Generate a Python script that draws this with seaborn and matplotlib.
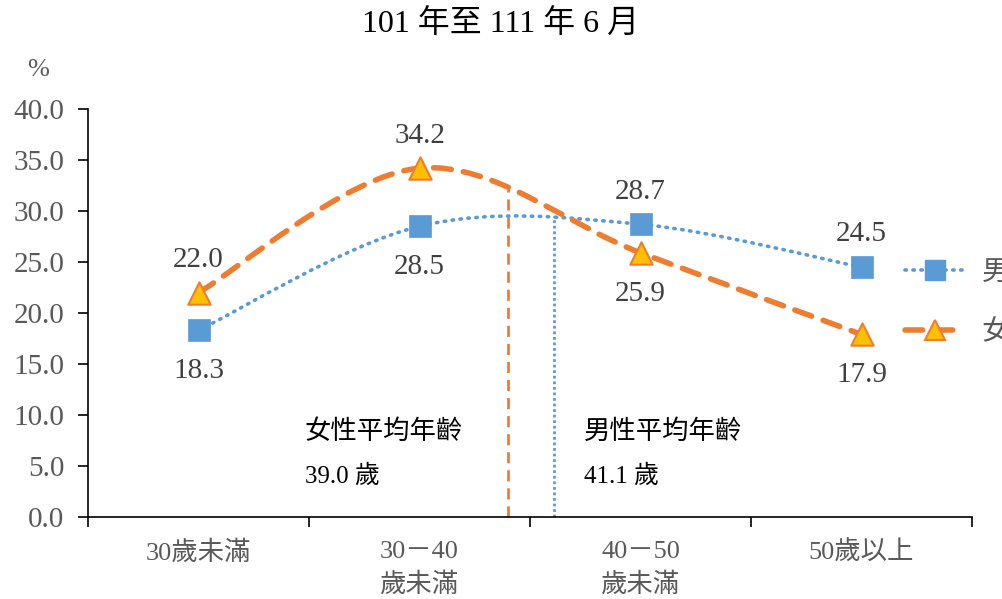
import numpy as np
import matplotlib
matplotlib.use('Agg')
import matplotlib.pyplot as plt
from matplotlib.path import Path
from matplotlib.patches import PathPatch
from matplotlib.lines import Line2D
import seaborn as sns
import pandas as pd

# data
categories = ['30歲未滿', '30－40\n歲未滿', '40－50\n歲未滿', '50歲以上']
male = [18.3, 28.5, 28.7, 24.5]
female = [22.0, 34.2, 25.9, 17.9]
boundary_ages = [30, 40, 50]
female_avg_age = 39.0
male_avg_age = 41.1
female_line_top = 32.4
male_line_top = 29.5

sns.set_theme(style='white')
plt.rcParams['font.family'] = ['Liberation Serif', 'Noto Sans CJK TC']

BLUE = '#5B9BD5'
ORANGE = '#ED7D31'
YELLOW = '#FFC000'
GREY = '#595959'

fig = plt.figure(figsize=(10.02, 5.99), dpi=100)
ax = fig.add_axes([88/1002, 82/599, 884/1002, 408/599])

x = np.arange(len(categories))
df = pd.DataFrame({'x': np.concatenate([x, x]),
                   'value': male + female,
                   'sex': ['男'] * 4 + ['女'] * 4})


def smooth_path(xs, ys):
    # excel style smoothed line: bezier with catmull-rom control points
    pts = np.column_stack([xs, ys]).astype(float)
    ext = np.vstack([pts[0], pts, pts[-1]])
    verts = [pts[0]]
    codes = [Path.MOVETO]
    for i in range(len(pts) - 1):
        p0, p1, p2, p3 = ext[i], ext[i + 1], ext[i + 2], ext[i + 3]
        verts += [p1 + (p2 - p0) / 6, p2 - (p3 - p1) / 6, p2]
        codes += [Path.CURVE4] * 3
    return Path(verts, codes)


ax.add_patch(PathPatch(smooth_path(x, male), fill=False, edgecolor=BLUE,
                       lw=2.6, linestyle=(0, (0.4, 1.8)), capstyle='round', zorder=2))
ax.add_patch(PathPatch(smooth_path(x, female), fill=False, edgecolor=ORANGE,
                       lw=4, linestyle=(0, (3.2, 2.2)), capstyle='round', zorder=2))

sns.scatterplot(data=df[df.sex == '男'], x='x', y='value', marker='s', s=230,
                color=BLUE, edgecolor=BLUE, linewidth=0.5, ax=ax, zorder=4, legend=False)
sns.scatterplot(data=df[df.sex == '女'], x='x', y='value', marker='^', s=260,
                color=YELLOW, edgecolor=ORANGE, linewidth=1.5, ax=ax, zorder=4, legend=False)

# average-age lines
def age_to_x(age):
    return 0.5 + (age - boundary_ages[0]) / (boundary_ages[1] - boundary_ages[0])

ax.plot([age_to_x(female_avg_age)] * 2, [0, female_line_top], color=ORANGE,
        lw=2, linestyle=(0, (4, 2.5)), zorder=1)
ax.plot([age_to_x(male_avg_age)] * 2, [0, male_line_top], color=BLUE,
        lw=2, linestyle=(0, (1, 1)), zorder=1)

ax.text(0.48, 8.4, '女性平均年齡', fontsize=19, color='black', ha='left', va='center')
ax.text(0.48, 4.0, '39.0 歲', fontsize=18, color='black', ha='left', va='center')
ax.text(1.745, 8.4, '男性平均年齡', fontsize=19, color='black', ha='left', va='center')
ax.text(1.745, 4.0, '41.1 歲', fontsize=18, color='black', ha='left', va='center')

# data labels
male_pos = ['below', 'below', 'above', 'above']
female_pos = ['above', 'above', 'below', 'below']
for xi, v, p in zip(x, male, male_pos):
    off = 3.2 if p == 'above' else -4.0
    ax.text(xi, v + off, f'{v:.1f}', fontsize=21, color='#404040', ha='center', va='center')
for xi, v, p in zip(x, female, female_pos):
    off = 3.2 if p == 'above' else -4.0
    ax.text(xi, v + off, f'{v:.1f}', fontsize=21, color='#404040', ha='center', va='center')

ax.set_xlim(-0.5, 3.5)
ax.set_ylim(0, 40)
ax.set_yticks(np.arange(0, 40.1, 5))
ax.set_yticklabels([f'{v:.1f}' for v in np.arange(0, 40.1, 5)], fontsize=21, color=GREY)
ax.set_xticks(np.arange(-0.5, 3.6, 1))
ax.set_xticklabels([])
ax.set_xticks(x, minor=True)
ax.set_xticklabels(categories, minor=True, fontsize=19, color=GREY, linespacing=1.5)
ax.tick_params(axis='x', which='minor', length=0, pad=17)
ax.tick_params(axis='x', which='major', direction='out', length=7, width=1.2, color='black', bottom=True)
ax.tick_params(axis='y', direction='out', length=7, width=1.2, color='black', left=True, pad=10)
for s in ['top', 'right']:
    ax.spines[s].set_visible(False)
for s in ['left', 'bottom']:
    ax.spines[s].set_color('black')
    ax.spines[s].set_linewidth(1.2)
ax.set_xlabel('')
ax.set_ylabel('')
ax.grid(False)

fig.text(38/1002, 1 - 70/599, '%', fontsize=19, color=GREY, ha='center', va='center')
fig.text(0.5, 1 - 25/599, '101 年至 111 年 6 月', fontsize=23, color='black',
         ha='center', va='center')

handles = [
    Line2D([], [], color=BLUE, lw=2.6, linestyle=(0, (0.4, 1.8)), dash_capstyle='round',
           marker='s', markersize=14, markerfacecolor=BLUE, markeredgecolor=BLUE),
    Line2D([], [], color=ORANGE, lw=4, linestyle=(0, (3.2, 2.2)), dash_capstyle='round',
           marker='^', markersize=14, markerfacecolor=YELLOW, markeredgecolor=ORANGE,
           markeredgewidth=1.5),
]
fig.legend(handles, ['男', '女'], loc='center left', bbox_to_anchor=(905/1002, 1 - 303/599),
           frameon=False, fontsize=20, handlelength=2.16, handletextpad=0.6,
           labelspacing=1.25, borderpad=0, borderaxespad=0, labelcolor=GREY)

fig.savefig('out.png', dpi=100)
